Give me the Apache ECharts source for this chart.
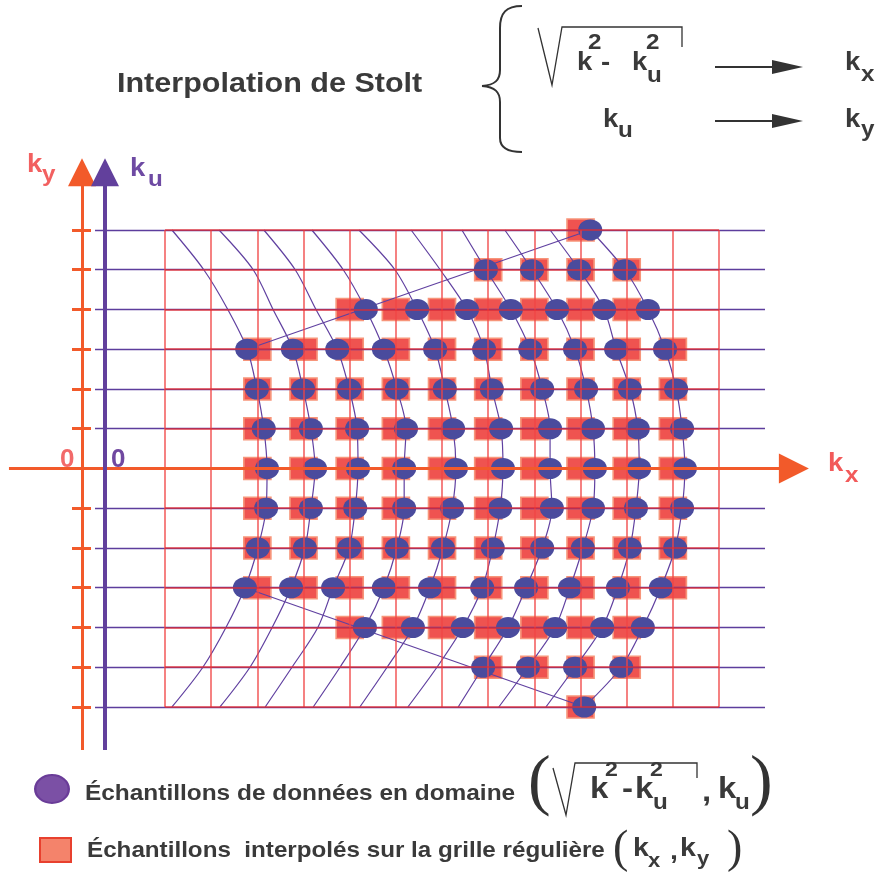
<!DOCTYPE html>
<html>
<head>
<meta charset="utf-8">
<script src="https://cdn.jsdelivr.net/npm/echarts@6/dist/echarts.min.js"></script>
<style>
html, body { margin: 0; padding: 0; background: #fff; }
#main { width: 877px; height: 877px; }
</style>
</head>
<body>
<div id="main"></div>
<script>
var chart = echarts.init(document.getElementById('main'));

// ku (= ky) rows of the diagram, top to bottom
var rows = [6, 5, 4, 3, 2, 1, 0, -1, -2, -3, -4, -5, -6];
// kx columns of the regular grid
var gridCols = [0, 1, 2, 3, 4, 5, 6, 7, 8, 9, 10, 11, 12];

// constant-k curves, kx read at each row (grid-column units), outer curve first
var curve0 = [9.21, 9.96, 10.46, 10.83, 11.07, 11.20, 11.26, 11.20, 11.05, 10.74, 10.35, 9.88, 9.08];
var curve1 = [8.34, 8.97, 9.51, 9.77, 10.07, 10.24, 10.27, 10.20, 10.07, 9.81, 9.47, 8.88, 8.25];
var curve2 = [7.36, 7.95, 8.49, 8.88, 9.12, 9.27, 9.31, 9.27, 9.05, 8.77, 8.45, 7.86, 7.23];
var curve3 = [6.43, 6.95, 7.49, 7.91, 8.17, 8.34, 8.34, 8.38, 8.17, 7.82, 7.43, 6.89, 6.35];
var curve4 = [5.33, 5.96, 6.54, 6.91, 7.08, 7.28, 7.32, 7.26, 7.10, 6.87, 6.45, 5.89, 5.26];
var curve5 = [4.20, 4.98, 5.46, 5.85, 6.06, 6.24, 6.30, 6.22, 6.02, 5.74, 5.37, 4.81, 4.22];
var curve6 = [3.18, 3.86, 4.35, 4.74, 5.02, 5.22, 5.18, 5.18, 5.02, 4.74, 4.33, 3.79, 3.21];
var curve7 = [2.14, 2.82, 3.27, 3.73, 3.99, 4.16, 4.18, 4.12, 3.99, 3.64, 3.31, 2.75, 2.17];
var curve8 = [1.17, 1.91, 2.34, 2.77, 2.99, 3.16, 3.25, 3.16, 3.03, 2.73, 2.32, 1.84, 1.19];
var curve9 = [0.15, 0.84, 1.36, 1.78, 1.99, 2.14, 2.21, 2.19, 2.01, 1.73, 1.32, 0.82, 0.15];
var curves = [curve0, curve1, curve2, curve3, curve4, curve5, curve6, curve7, curve8, curve9];

// measured samples per row, counted from the outer curve
var dotsPerRow = [1, 4, 7, 10, 10, 10, 10, 10, 10, 10, 7, 4, 1];
// first / last grid column holding an interpolated sample on each row
var squareFirst = [9, 7, 4, 2, 2, 2, 2, 2, 2, 2, 4, 7, 9];
var squareLast = [9, 10, 10, 11, 11, 11, 11, 11, 11, 11, 10, 10, 9];

// layout (grid-column / row units)
var X_MIN = -3.574, X_MAX = 15.421, Y_MIN = -10.277, Y_MAX = 11.786;
var KY_X = -1.798, KU_X = -1.30;
var AX_BOT = -7.08, AX_TOP = 7.45;
var KX_L = -3.38, KX_END = 13.62;
var TICK_L = -2.014, TICK_R = -1.603;
var KU_LINE_L = -1.516, KU_LINE_R = 12.995;

var RED = '#f25a2a', PURPLE = '#5d3d9d', DOT = '#4a4b9d';
var SANS = "'Liberation Sans', Arial, sans-serif";
var SERIF = "'Liberation Serif', 'Times New Roman', serif";

var dots = [];
var squares = [];
rows.forEach(function (r, i) {
  for (var c = 0; c < dotsPerRow[i]; c++) dots.push([curves[c][i], r]);
  for (var g = squareFirst[i]; g <= squareLast[i]; g++) squares.push([g, r]);
});

function seg(a, b) { return { coords: [a, b] }; }
var rowTop = rows[0], rowBot = rows[rows.length - 1];
var colL = gridCols[0], colR = gridCols[gridCols.length - 1];
var last = rows.length - 1;

function linesSeries(data, color, width, z, extra) {
  var s = {
    type: 'lines', coordinateSystem: 'cartesian2d', silent: true,
    data: data, lineStyle: { color: color, width: width, opacity: 1 }, z: z,
    symbol: 'none', animation: false
  };
  for (var k in extra) s[k] = extra[k];
  return s;
}

var series = [];
series.push({
  type: 'scatter', data: squares, symbol: 'rect', symbolSize: [27, 22], z: 2, silent: true,
  itemStyle: { color: '#ef5350', borderColor: '#f7957a', borderWidth: 1.5, opacity: 1 }
});
series.push(linesSeries(rows.map(function (r) { return seg([KU_LINE_L, r], [KU_LINE_R, r]); }), PURPLE, 1.3, 3));
curves.forEach(function (cv) {
  series.push({
    type: 'line', data: cv.map(function (x, i) { return [x, rows[i]]; }), smooth: 0.3,
    symbol: 'none', silent: true, z: 3, animation: false,
    lineStyle: { color: '#6040a0', width: 1.2 }
  });
});
series.push(linesSeries([
  seg([curve9[3], rows[3]], [curve0[0], rows[0]]),
  seg([curve9[last - 3], rows[last - 3]], [curve0[last], rows[last]])
], '#6040a0', 1.2, 3));
series.push({
  type: 'scatter', data: dots, symbol: 'circle', symbolSize: [24, 21], z: 4, silent: true,
  itemStyle: { color: DOT, opacity: 1 }
});
series.push(linesSeries(gridCols.map(function (c) { return seg([c, rowBot], [c, rowTop]); }),
  'rgba(240,70,70,0.75)', 1.8, 5));
series.push(linesSeries(rows.map(function (r) { return seg([colL, r], [colR, r]); }),
  'rgba(236,40,40,0.8)', 1.5, 5));
series.push(linesSeries(rows.filter(function (r) { return r !== 0; }).map(function (r) {
  return seg([TICK_L, r], [TICK_R, r]);
}), RED, 3, 6));
series.push(linesSeries([seg([-1.581, 0], [-0.975, 0])], '#6a46a0', 3, 6));
series.push(linesSeries([seg([KX_L, 0], [KX_END, 0])], RED, 3, 7,
  { symbol: ['none', 'triangle'], symbolSize: [15, 30] }));
series.push(linesSeries([seg([KY_X, AX_BOT], [KY_X, AX_TOP])], RED, 3, 7,
  { symbol: ['none', 'triangle'], symbolSize: [18, 28] }));
series.push(linesSeries([seg([KU_X, AX_BOT], [KU_X, AX_TOP])], '#62409c', 4, 7,
  { symbol: ['none', 'triangle'], symbolSize: [18, 28] }));

// text helper: x = left edge, base = baseline; the source face is a little wider than Liberation
function t(str, x, base, size, fill, sx) {
  return {
    type: 'text', x: x, y: base - 0.33 * size, scaleX: sx || 1.1, silent: true, z: 100,
    style: {
      text: str, fill: fill || '#3a3a3a',
      font: 'bold ' + size + 'px ' + SANS,
      align: 'left', verticalAlign: 'middle'
    }
  };
}
function paren(str, x, cy, size) {
  return {
    type: 'text', x: x, y: cy, silent: true, z: 100,
    style: { text: str, fill: '#333', font: size + 'px ' + SERIF, align: 'left', verticalAlign: 'middle' }
  };
}
function ink(extra) { var s = { stroke: '#333', lineWidth: 2, fill: null }; for (var k in extra) s[k] = extra[k]; return s; }
function bez(x1, y1, c1x, c1y, c2x, c2y, x2, y2) {
  return { type: 'bezierCurve', silent: true,
    shape: { x1: x1, y1: y1, cpx1: c1x, cpy1: c1y, cpx2: c2x, cpy2: c2y, x2: x2, y2: y2 }, style: ink() };
}
function ln(x1, y1, x2, y2, w) {
  return { type: 'line', silent: true, shape: { x1: x1, y1: y1, x2: x2, y2: y2 }, style: ink({ lineWidth: w || 2 }) };
}
function arrow(y) {
  return [
    ln(715, y, 776, y, 2),
    { type: 'polygon', silent: true, shape: { points: [[772, y - 7], [803, y], [772, y + 7]] }, style: { fill: '#333' } }
  ];
}
var INK = '#3a3a3a';
var graphics = [
  t('Interpolation de Stolt', 117, 94, 28, INK, 1.09),
  bez(522, 6, 506, 6, 500, 13, 500, 28), ln(500, 28, 500, 70),
  bez(500, 70, 500, 80, 495, 85, 482, 86), bez(482, 86, 495, 87, 500, 92, 500, 102),
  ln(500, 102, 500, 138), bez(500, 138, 500, 146, 506, 152, 522, 152),
  { type: 'polyline', silent: true, shape: { points: [[538, 28], [552, 85], [562, 27], [682, 27], [682, 47]] },
    style: ink({ lineWidth: 1.3 }) },
  t('k', 577, 71, 25, INK), t('2', 588, 50, 22, INK), t('-', 601, 71, 25, INK),
  t('k', 632, 71, 25, INK), t('2', 646, 50, 22, INK), t('u', 647, 83, 22, INK),
  t('k', 603, 128, 25, INK), t('u', 618, 138, 22, INK),
  t('k', 845, 71, 25, INK), t('x', 861, 82, 22, INK),
  t('k', 845, 128, 25, INK), t('y', 861, 137, 22, INK),

  t('k', 27, 173, 25, '#f26060'), t('y', 42, 182, 22, '#f26060'),
  t('k', 130, 177, 25, '#6e4aa3'), t('u', 148, 187, 22, '#6e4aa3'),
  t('0', 60, 468, 26, '#f26a6a', 1), t('0', 111, 468, 26, '#7048a0', 1),
  t('k', 828, 472, 25, '#f25a5a'), t('x', 845, 483, 22, '#f25a5a'),

  { type: 'circle', silent: true, x: 52, y: 789, scaleX: 1.2, shape: { cx: 0, cy: 0, r: 14 },
    style: { fill: '#7b50a5', stroke: '#6a3c98', lineWidth: 2 } },
  t('Échantillons de données en domaine', 85, 801, 22, INK, 1.11),
  paren('(', 528, 784, 68),
  { type: 'polyline', silent: true, shape: { points: [[553, 768], [566, 815], [575, 763], [697, 763], [697, 778]] },
    style: ink({ lineWidth: 1.3 }) },
  t('k', 590, 800, 30, INK), t('2', 605, 777, 21, INK), t('-', 622, 800, 30, INK),
  t('k', 635, 800, 30, INK), t('2', 650, 777, 21, INK), t('u', 653, 810, 22, INK),
  t(',', 702, 803, 30, INK), t('k', 718, 800, 30, INK), t('u', 735, 810, 22, INK),
  paren(')', 750, 784, 68),

  { type: 'rect', silent: true, shape: { x: 40, y: 838, width: 31, height: 24 },
    style: { fill: '#f4836b', stroke: '#e8402e', lineWidth: 2 } },
  t('Échantillons  interpolés sur la grille régulière', 87, 858, 22, INK, 1.1),
  paren('(', 613, 850, 46),
  t('k', 633, 857, 26, INK), t('x', 648, 868, 20, INK), t(',', 670, 860, 26, INK),
  t('k', 680, 857, 26, INK), t('y', 697, 866, 20, INK),
  paren(')', 727, 850, 46)
].concat(arrow(67), arrow(121));

var option = {
  animation: false,
  backgroundColor: '#fff',
  grid: { left: 0, right: 0, top: 0, bottom: 0 },
  xAxis: { type: 'value', min: X_MIN, max: X_MAX, show: false },
  yAxis: { type: 'value', min: Y_MIN, max: Y_MAX, show: false },
  graphic: graphics,
  series: series
};
chart.setOption(option);
</script>
</body>
</html>
